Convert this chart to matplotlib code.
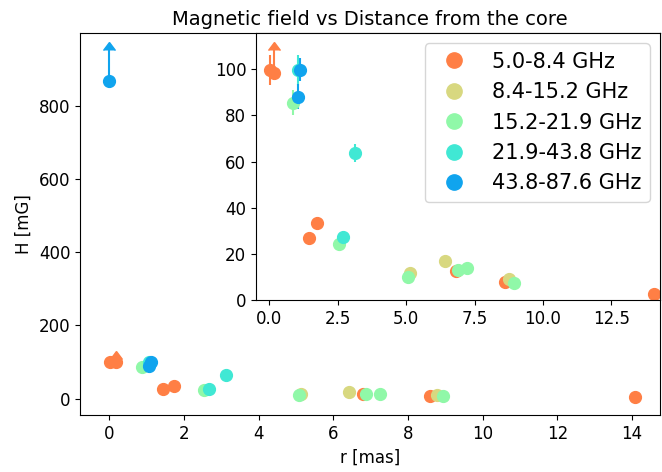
import numpy as np
import matplotlib
matplotlib.use('Agg')
import matplotlib.pyplot as plt
from matplotlib.lines import Line2D

bands = ['5.0-8.4 GHz', '8.4-15.2 GHz', '15.2-21.9 GHz', '21.9-43.8 GHz', '43.8-87.6 GHz']
colors = ['#ff7f45', '#d8d880', '#90f8a8', '#40e8d4', '#10a4ee']

# 5.0-8.4 GHz
r1 = [0.03, 0.18, 1.43, 1.73, 6.81, 8.60, 14.07]
h1 = [99.7, 98.5, 26.7, 33.5, 12.5, 8.0, 2.8]
e1 = [6.5, 10.0, 0, 0, 0, 0, 0]
l1 = [False, True, False, False, False, False, False]
# 8.4-15.2 GHz
r2 = [5.14, 6.42, 8.77]
h2 = [11.8, 17.0, 8.9]
e2 = [0, 0, 0]
l2 = [False, False, False]
# 15.2-21.9 GHz
r3 = [0.88, 2.54, 5.08, 6.88, 7.24, 8.93]
h3 = [85.5, 24.2, 9.8, 13.2, 13.7, 7.2]
e3 = [5.5, 0, 0, 0, 0, 0]
l3 = [False, False, False, False, False, False]
# 21.9-43.8 GHz
r4 = [1.06, 2.68, 3.13]
h4 = [99.7, 27.2, 63.6]
e4 = [6.5, 0, 4.0]
l4 = [False, False, False]
# 43.8-87.6 GHz
r5 = [0.0, 1.06, 1.12]
h5 = [866, 88.1, 99.7]
e5 = [85, 5.5, 5.0]
l5 = [True, False, False]

data = [(r1, h1, e1, l1), (r2, h2, e2, l2), (r3, h3, e3, l3), (r4, h4, e4, l4), (r5, h5, e5, l5)]

fig = plt.figure(figsize=(6.62, 4.72), dpi=100)
ax = fig.add_axes([80/662, 1-415/472, 580/662, 382/472])
axin = fig.add_axes([256/662, 1-300/472, 404/662, 267/472])

for a in (ax, axin):
    for (r, h, e, lo), c in zip(data, colors):
        eb = a.errorbar(r, h, yerr=e, lolims=lo, fmt='o', color=c, ms=8.5,
                        elinewidth=1.5, capsize=0)
        # carets of the lower limits
        for cl in eb[1]:
            cl.set_markersize(8)
    a.tick_params(labelsize=12)

ax.set_xlim(-0.78, 14.75)
ax.set_ylim(-45, 998)
ax.set_xticks([0, 2, 4, 6, 8, 10, 12, 14])
ax.set_yticks([0, 200, 400, 600, 800])
ax.set_xlabel('r [mas]', fontsize=12)
ax.set_ylabel('H [mG]', fontsize=12)
ax.set_title('Magnetic field vs Distance from the core', fontsize=14)

axin.set_xlim(-0.49, 14.28)
axin.set_ylim(0, 115.7)
axin.set_xticks([0, 2.5, 5, 7.5, 10, 12.5])
axin.set_yticks([0, 20, 40, 60, 80, 100])

handles = [Line2D([], [], marker='o', ls='none', color=c, ms=11) for c in colors]
axin.legend(handles, bands, loc='upper right', fontsize=15, handletextpad=0.8)

fig.savefig('out.png', dpi=100)
